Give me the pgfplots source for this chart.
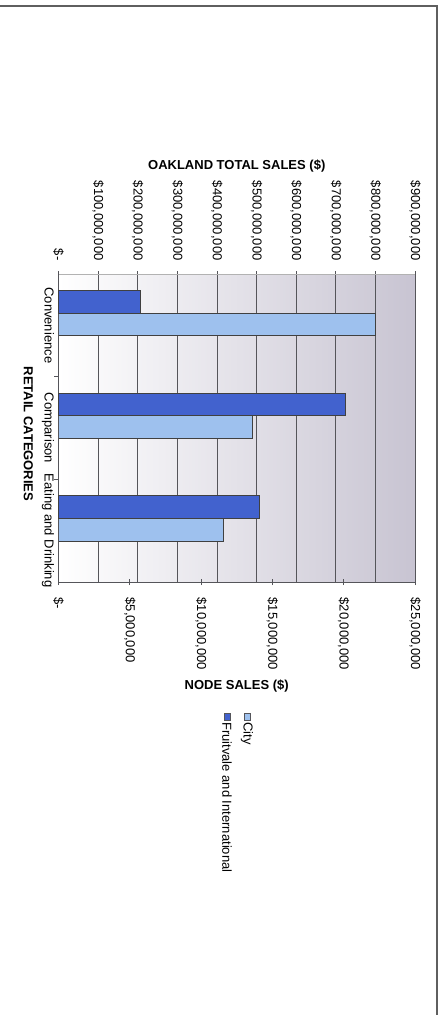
\documentclass[border=0pt]{standalone}
\usepackage{pgfplots}
\pgfplotsset{compat=1.18}
\usepackage{fontspec}
\setmainfont{Liberation Sans}
\definecolor{darkbar}{RGB}{66,98,206}
\definecolor{lightbar}{RGB}{158,193,238}
\definecolor{bgend}{RGB}{200,196,210}
\definecolor{gridc}{RGB}{85,85,90}
\definecolor{framec}{RGB}{95,95,95}
\begin{document}
\begin{tikzpicture}[font=\fontsize{13}{15}\selectfont]
\useasboundingbox (0,0) rectangle (441pt,-1015pt);
\draw[line width=1.4pt, draw=framec] (0,-6pt) -- (437pt,-6pt) -- (437pt,-1015pt);
\pgfplotsset{
  common/.style={
    scale only axis, width=356.5pt, height=308pt,
    at={(58.5pt,-582pt)}, anchor=south west,
    ymin=-0.5, ymax=2.5,
    xbar, bar width=0.22,
  }
}
% Secondary axis: Oakland total sales (City), drawn first with background and grid
\begin{axis}[common,
  xmin=0, xmax=900,
  axis background/.style={left color=white, right color=bgend},
  axis x line*=top, axis y line=none,
  x axis line style={draw=gray!60},
  xtick={0,100,200,300,400,500,600,700,800,900},
  xticklabels={{\$-},{\$100,000,000},{\$200,000,000},{\$300,000,000},{\$400,000,000},{\$500,000,000},{\$600,000,000},{\$700,000,000},{\$800,000,000},{\$900,000,000}},
  xticklabel style={rotate=-90, anchor=east},
  xticklabel shift=7pt,
  tick align=center, major tick length=6pt,
  xtick style={draw=gridc, line width=0.8pt},
  xmajorgrids, grid style={draw=gridc, line width=0.8pt},
  ytick=\empty,
  every axis x label/.style={at={(axis description cs:0.5,1.35)}, anchor=center},
  xlabel={\bfseries OAKLAND TOTAL SALES (\$)},
]
\addplot[fill=lightbar, draw=black!75, line width=0.6pt, bar shift=0pt] coordinates {
  (800,2.01) (490,1.01) (416,0.01)
};
\end{axis}
% Primary axis: node sales (Fruitvale and International)
\begin{axis}[common,
  clip=false,
  xmin=0, xmax=25,
  axis x line*=bottom, axis y line*=left,
  x axis line style={draw=gridc, line width=0.8pt},
  y axis line style={draw=gridc, line width=0.8pt},
  xtick={0,5,10,15,20,25},
  xticklabels={{\$-},{\$5,000,000},{\$10,000,000},{\$15,000,000},{\$20,000,000},{\$25,000,000}},
  xticklabel style={rotate=-90, anchor=west},
  xticklabel shift=9pt,
  tick align=center, major tick length=6pt,
  xtick style={draw=gridc, line width=0.8pt},
  ytick={0,1,2},
  yticklabels={Eating and Drinking, Comparison, Convenience},
  yticklabel style={rotate=-90, anchor=north},
  yticklabel shift=-2pt,
  ytick style={draw=none},
  every axis x label/.style={at={(axis description cs:0.5,-0.3377)}, anchor=center},
  xlabel={\bfseries NODE SALES (\$)},
  every axis y label/.style={at={(axis description cs:-0.0847,0.4805)}, rotate=-90, anchor=center},
  ylabel={\bfseries RETAIL CATEGORIES},
]
\addplot[fill=darkbar, draw=black!75, line width=0.6pt, bar shift=0pt] coordinates {
  (5.76,2.23) (20.1,1.23) (14.05,0.23)
};
% legend (rotated, as in the reference)
\draw[fill=lightbar, draw=gridc, line width=0.5pt] (axis description cs:0.5203,-0.4253) rectangle (axis description cs:0.5371,-0.4481);
\draw[fill=darkbar, draw=gridc, line width=0.5pt] (axis description cs:0.4642,-0.4253) rectangle (axis description cs:0.4811,-0.4481);
\node[rotate=-90, anchor=west, inner sep=0pt] at (axis description cs:0.5288,-0.4545) {City};
\node[rotate=-90, anchor=west, inner sep=0pt] at (axis description cs:0.4727,-0.4545) {Fruitvale and International};
\end{axis}
% Category boundary ticks
\begin{axis}[scale only axis, width=356.5pt, height=308pt,
  at={(58.5pt,-582pt)}, anchor=south west,
  xmin=0, xmax=1, ymin=-0.5, ymax=2.5,
  hide x axis, axis y line*=left, y axis line style={draw=none},
  ytick={0.5,1.5}, yticklabels={}, tick align=outside, major tick length=4pt,
  ytick style={draw=gridc, line width=0.8pt}]
\end{axis}
\end{tikzpicture}
\end{document}
